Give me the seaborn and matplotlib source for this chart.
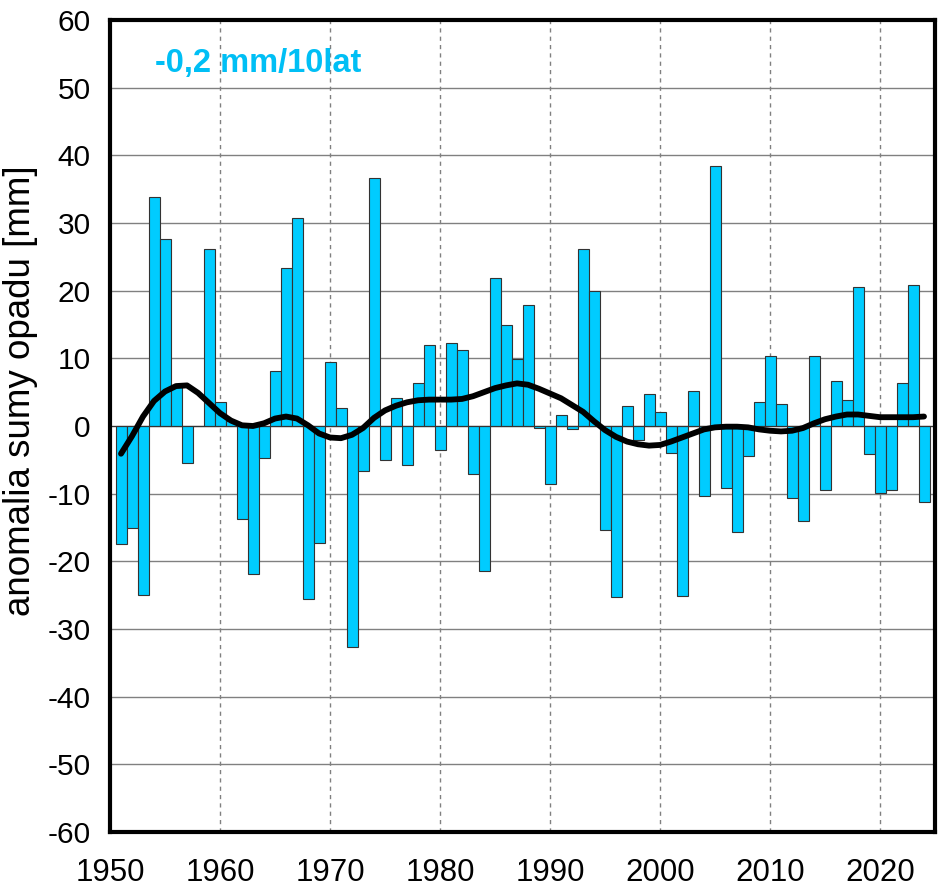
import matplotlib
matplotlib.use("Agg")
import matplotlib.pyplot as plt
import seaborn as sns
import pandas as pd
import numpy as np

years = list(range(1951, 2025))
anomaly = [
    -17.4, -15.0, -25.0, 33.9, 27.6, 5.8, -5.4, 0.0, 26.2, 3.6,
    0.8, -13.7, -21.8, -4.8, 8.2, 23.3, 30.8, -25.6, -17.3, 9.4,
    2.6, -32.6, -6.7, 36.7, -5.0, 4.2, -5.8, 6.3, 11.9, -3.6,
    12.2, 11.3, -7.1, -21.4, 21.9, 14.9, 9.9, 17.9, -0.3, -8.6,
    1.6, -0.4, 26.1, 20.0, -15.3, -25.3, 3.0, -2.1, 4.8, 2.0,
    -4.0, -25.1, 5.1, -10.3, 38.4, -9.2, -15.7, -4.5, 3.5, 10.4,
    3.2, -10.6, -14.1, 10.4, -9.5, 6.6, 3.9, 20.6, -4.1, -9.9,
    -9.4, 6.4, 20.8, -11.3,
]
smooth = [
    -4.1, -1.5, 1.4, 3.7, 5.1, 5.9, 6.0, 4.9, 3.4, 1.9,
    0.8, 0.1, 0.0, 0.4, 1.1, 1.4, 1.1, 0.1, -1.1, -1.7,
    -1.8, -1.3, -0.3, 1.2, 2.3, 3.0, 3.5, 3.8, 3.9, 3.9,
    3.9, 4.0, 4.4, 5.0, 5.6, 6.0, 6.3, 6.1, 5.5, 4.8,
    4.1, 3.1, 2.1, 0.7, -0.6, -1.6, -2.3, -2.7, -2.9, -2.8,
    -2.3, -1.7, -1.1, -0.5, -0.2, -0.1, -0.1, -0.2, -0.5, -0.7,
    -0.8, -0.7, -0.3, 0.4, 1.0, 1.4, 1.7, 1.7, 1.5, 1.3,
    1.3, 1.3, 1.3, 1.4,
]
xticks = list(range(1950, 2021, 10))
yticks = list(range(-60, 61, 10))
trend_text = "-0,2 mm/10lat"
ylabel = "anomalia sumy opadu [mm]"

sns.set_theme(style="white")
plt.rcParams["font.family"] = ["Liberation Sans", "DejaVu Sans"]

df = pd.DataFrame({"year": years, "anomaly": anomaly, "smooth": smooth})

fig = plt.figure(figsize=(9.42, 8.88), dpi=100)
ax = fig.add_axes([110 / 942, 56 / 888, 825 / 942, 812 / 888])

ax.grid(axis="y", color="#808080", linewidth=1.0, linestyle="-", zorder=0)
ax.grid(axis="x", color="#808080", linewidth=1.0, linestyle=(0, (3, 3)), zorder=0)
ax.set_axisbelow(True)

sns.barplot(data=df, x="year", y="anomaly", native_scale=True, width=1.0,
            color="#00CCFF", saturation=1, edgecolor="#333333", linewidth=0.8,
            ax=ax, zorder=2)
sns.lineplot(data=df, x="year", y="smooth", color="black", linewidth=4.2,
             ax=ax, zorder=3)

ax.axhline(0, color="#333333", linewidth=0.8, zorder=2.5)

ax.set_xlim(1950, 2025)
ax.set_ylim(-60, 60)
ax.set_xticks(xticks)
ax.set_xticklabels([str(t) for t in xticks])
ax.set_yticks(yticks)
ax.set_yticklabels([str(t) for t in yticks])
ax.tick_params(axis="both", length=0, labelsize=21.5, colors="black")
ax.tick_params(axis="y", pad=14)
ax.tick_params(axis="x", pad=19, labelsize=22.5)
ax.set_xlabel("")
ax.set_ylabel(ylabel, fontsize=26.5, color="black")
ax.yaxis.set_label_coords(-72 / 825, 0.544)

for s in ax.spines.values():
    s.set_visible(True)
    s.set_color("black")
    s.set_linewidth(3)

ax.text(1954.1, 53.6, trend_text, color="#00BFF5", fontsize=23.5,
        fontweight="bold", ha="left", va="center", zorder=4)

fig.savefig("out.png", dpi=100)
